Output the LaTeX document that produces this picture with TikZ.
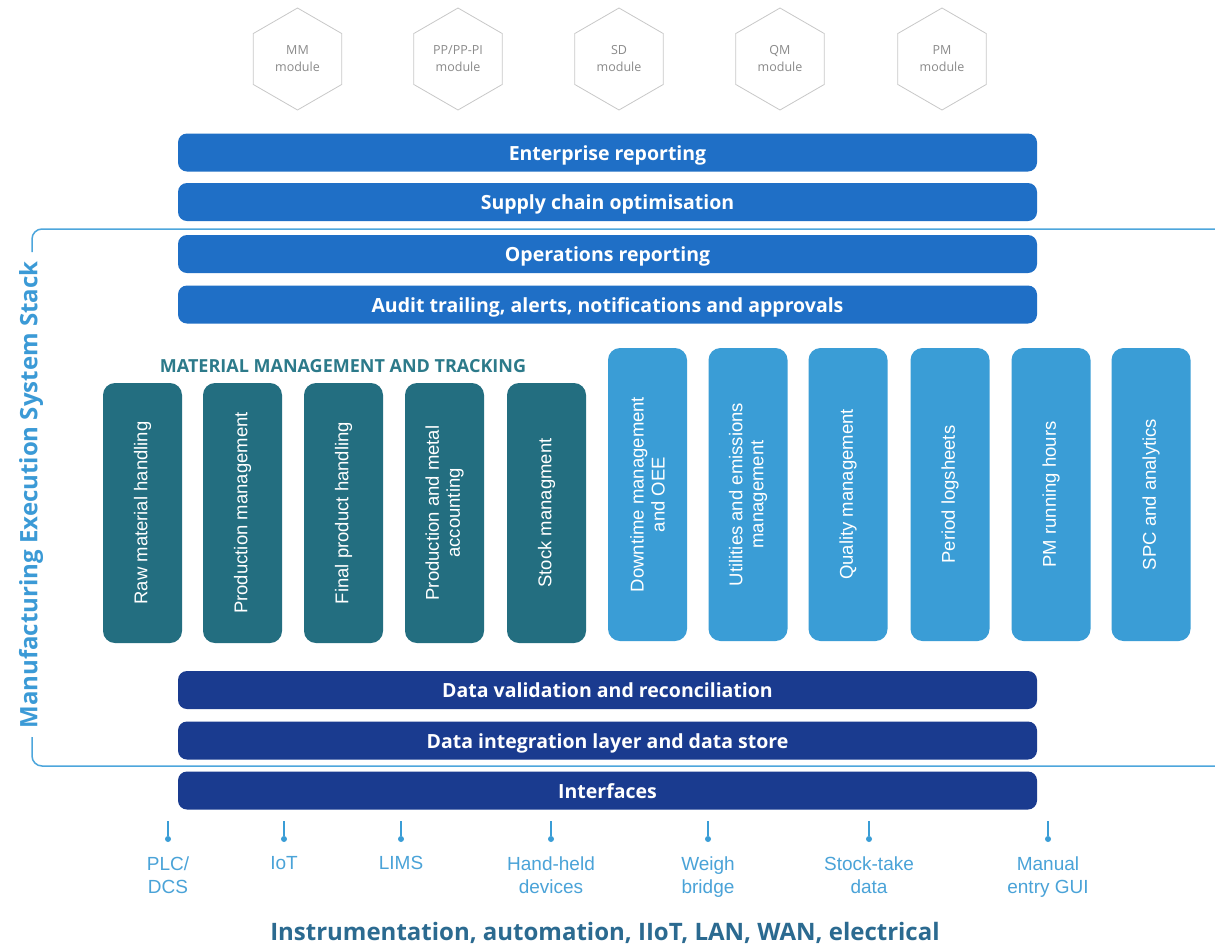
\documentclass[tikz,border=0pt]{standalone}
\usepackage{fontspec}
\setmainfont{Open Sans}
\newfontfamily\arialf{Liberation Sans}
\usetikzlibrary{shapes.geometric}
\definecolor{barblue}{HTML}{1F6FC6}
\definecolor{tealbox}{HTML}{236E80}
\definecolor{lightbox}{HTML}{3A9DD6}
\definecolor{navybar}{HTML}{1A3B8F}
\definecolor{brk}{HTML}{4DA6DC}
\definecolor{sidetxt}{HTML}{3B9AD6}
\definecolor{mattxt}{HTML}{2C7A8A}
\definecolor{bottxt}{HTML}{2B6A90}
\definecolor{lbltxt}{HTML}{4AA3D8}
\definecolor{hexline}{HTML}{C8C8C8}
\definecolor{hextxt}{HTML}{8A8A8A}
\tikzset{
  hexmod/.style={draw=hexline, line width=0.8pt, fill=white, regular polygon, regular polygon sides=6, shape border rotate=90, minimum size=102pt, inner sep=0pt, text=hextxt, align=center, font=\fontsize{12.5}{17}\selectfont},
  barbox/.style={rounded corners=9pt, minimum width=859pt, minimum height=38pt, inner sep=0pt, text height=16pt, text depth=1pt, text=white, font=\fontsize{19.5}{22}\selectfont\bfseries},
  tbar/.style={barbox, fill=barblue},
  nbar/.style={barbox, fill=navybar},
  vbox/.style={rotate=90, rounded corners=12pt, minimum height=79pt, inner sep=0pt, text=white, align=center, font=\arialf\fontsize{18.5}{21}\selectfont},
  tealv/.style={vbox, fill=tealbox, minimum width=260pt},
  lightv/.style={vbox, fill=lightbox, minimum width=293pt},
  conn/.style={draw=lightbox, line width=1.6pt},
  dotend/.style={circle, fill=lightbox, inner sep=0pt, minimum size=6pt},
  lbl/.style={anchor=north, text=lbltxt, align=center, font=\arialf\fontsize{19}{23}\selectfont},
  brkline/.style={draw=brk, line width=1.5pt, rounded corners=10pt}
}
\begin{document}
\begin{tikzpicture}[x=1pt,y=-1pt]
\useasboundingbox[fill=white] (0,0) rectangle (1215,951);
% hexagons
\node[hexmod] (mm) at (297.5,59) {MM\\module};
\node[hexmod] (pp) at (458,59) {PP/PP-PI\\module};
\node[hexmod] (sd) at (619,59) {SD\\module};
\node[hexmod] (qm) at (780,59) {QM\\module};
\node[hexmod] (pm) at (942,59) {PM\\module};
% top bars
\node[tbar] (er) at (607.5,152.5) {Enterprise reporting};
\node[tbar] (sc) at (607.5,202) {Supply chain optimisation};
\node[tbar] (or) at (607.5,254) {Operations reporting};
\node[tbar] (au) at (607.5,304.5) {Audit trailing, alerts, notifications and approvals};
% side label and bracket
\node[rotate=90, text=sidetxt, font=\fontsize{24}{28}\selectfont\bfseries, inner sep=0pt] (side) at (31,495) {Manufacturing Execution System Stack};
\coordinate (bk1) at (32,252);
\coordinate (bk2) at (1215,229);
\coordinate (bk3) at (32,737);
\coordinate (bk4) at (1215,766);
\draw[brkline] (bk1) |- (bk2);
\draw[brkline] (bk3) |- (bk4);
% material management
\node[text=mattxt, font=\fontsize{18}{21}\selectfont\bfseries] (mat) at (343,366) {MATERIAL MANAGEMENT AND TRACKING};
\node[tealv] (raw) at (142.5,513) {Raw material handling};
\node[tealv] (prm) at (242.5,513) {Production management};
\node[tealv] (fph) at (343.5,513) {Final product handling};
\node[tealv] (pma) at (444.5,513) {Production and metal\\accounting};
\node[tealv] (stk) at (546.5,513) {Stock managment};
\node[lightv] (dtm) at (647.5,494.5) {Downtime management\\and OEE};
\node[lightv] (uem) at (748,494.5) {Utilities and emissions\\management};
\node[lightv] (qlm) at (848,494.5) {Quality management};
\node[lightv] (plg) at (950,494.5) {Period logsheets};
\node[lightv] (pmr) at (1051,494.5) {PM running hours};
\node[lightv] (spc) at (1151,494.5) {SPC and analytics};
% lower bars
\node[nbar] (dv) at (607.5,690) {Data validation and reconciliation};
\node[nbar] (di) at (607.5,740.5) {Data integration layer and data store};
\node[nbar] (ifc) at (607.5,790.5) {Interfaces};
% connectors and labels
\foreach \i/\x/\t in {1/168/{PLC/\\DCS},2/284/{IoT},3/401/{LIMS},4/551/{Hand-held\\devices},5/708/{Weigh\\bridge},6/869/{Stock-take\\data},7/1048/{Manual\\entry GUI}}{
  \coordinate (top\i) at (\x,821);
  \node[dotend] (dot\i) at (\x,839) {};
  \draw[conn] (top\i) -- (dot\i);
  \node[lbl] (lab\i) at (\x,853) {\t};
}
\node[text=bottxt, font=\fontsize{24}{28}\selectfont\bfseries] (bottom) at (605,933) {Instrumentation, automation, IIoT, LAN, WAN, electrical};
\end{tikzpicture}
\end{document}
